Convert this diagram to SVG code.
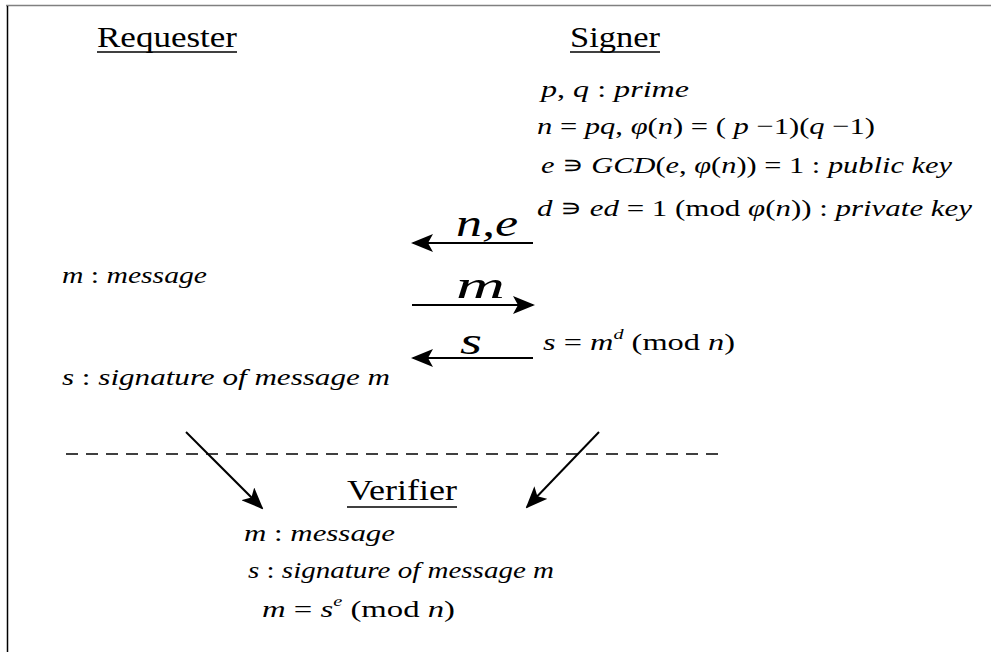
<svg xmlns="http://www.w3.org/2000/svg" width="991" height="652" viewBox="0 0 991 652" font-family="'Liberation Serif', 'Times New Roman', Times, 'DejaVu Serif', serif">
<defs>
<style>
.h{font-size:30px}
.t{font-size:24px}
.i{font-style:italic}
.big{font-size:38px;font-style:italic}
.sup{font-size:15px;font-style:italic}
.ln{stroke:#000;stroke-width:2;fill:none}
.ul{stroke:#000;stroke-width:1.5}
</style>
<marker id="ah2" markerWidth="22" markerHeight="18" refX="20" refY="9" orient="auto" markerUnits="userSpaceOnUse" viewBox="0 0 22 18">
<path d="M0,0 L22,9 L0,18 L5,9 Z" fill="#000"/>
</marker>
</defs>
<rect width="991" height="652" fill="#fff"/>
<line x1="6" y1="5.5" x2="991" y2="5.5" stroke="#808080" stroke-width="1.5"/>
<line x1="7.5" y1="6" x2="7.5" y2="652" stroke="#000" stroke-width="1.5"/>

<g id="requester">
<text class="h" x="97" y="47" textLength="140" lengthAdjust="spacingAndGlyphs">Requester</text>
<line class="ul" x1="97" y1="52" x2="237" y2="52"/>
<text class="t" x="62" y="283" textLength="145" lengthAdjust="spacingAndGlyphs"><tspan class="i">m</tspan> : <tspan class="i">message</tspan></text>
<text class="t" x="62" y="385" textLength="328" lengthAdjust="spacingAndGlyphs"><tspan class="i">s</tspan> : <tspan class="i">signature of  message m</tspan></text>
</g>

<g id="signer">
<text class="h" x="570" y="47" textLength="90" lengthAdjust="spacingAndGlyphs">Signer</text>
<line class="ul" x1="570" y1="52" x2="660" y2="52"/>
<text class="t" x="541" y="97" textLength="148" lengthAdjust="spacingAndGlyphs"><tspan class="i">p</tspan>, <tspan class="i">q</tspan> : <tspan class="i">prime</tspan></text>
<text class="t" x="537" y="134" textLength="338" lengthAdjust="spacingAndGlyphs"><tspan class="i">n</tspan> = <tspan class="i">pq</tspan>, <tspan class="i">φ</tspan>(<tspan class="i">n</tspan>) = ( <tspan class="i">p</tspan> −1)(<tspan class="i">q</tspan> −1)</text>
<text class="t" x="541" y="173" textLength="411" lengthAdjust="spacingAndGlyphs"><tspan class="i">e</tspan> ∍ <tspan class="i">GCD</tspan>(<tspan class="i">e</tspan>, <tspan class="i">φ</tspan>(<tspan class="i">n</tspan>)) = 1 : <tspan class="i">public key</tspan></text>
<text class="t" x="537" y="216" textLength="435" lengthAdjust="spacingAndGlyphs"><tspan class="i">d</tspan> ∍ <tspan class="i">ed</tspan> = 1 (mod <tspan class="i">φ</tspan>(<tspan class="i">n</tspan>)) : <tspan class="i">private key</tspan></text>
<text class="t" x="543" y="350" textLength="192" lengthAdjust="spacingAndGlyphs"><tspan class="i">s</tspan> = <tspan class="i">m</tspan><tspan class="sup" dy="-11">d</tspan><tspan dy="11">  (mod </tspan><tspan class="i">n</tspan>)</text>
</g>

<g id="verifier">
<text class="h" x="347" y="500" textLength="110" lengthAdjust="spacingAndGlyphs">Verifier</text>
<line class="ul" x1="347" y1="507" x2="457" y2="507"/>
<text class="t" x="244" y="541" textLength="151" lengthAdjust="spacingAndGlyphs"><tspan class="i">m</tspan> : <tspan class="i">message</tspan></text>
<text class="t" x="248" y="578" textLength="306" lengthAdjust="spacingAndGlyphs"><tspan class="i">s</tspan> : <tspan class="i">signature of  message m</tspan></text>
<text class="t" x="262" y="617" textLength="193" lengthAdjust="spacingAndGlyphs"><tspan class="i">m</tspan> = <tspan class="i">s</tspan><tspan class="sup" dy="-11">e</tspan><tspan dy="11">  (mod </tspan><tspan class="i">n</tspan>)</text>
</g>

<g id="connectors">
<line x1="66" y1="454" x2="720" y2="454" stroke="#000" stroke-width="1.5" stroke-dasharray="12,8"/>
<line class="ln" x1="533" y1="243" x2="413" y2="243" marker-end="url(#ah2)"/>
<line class="ln" x1="412" y1="305" x2="533" y2="305" marker-end="url(#ah2)"/>
<line class="ln" x1="533" y1="358" x2="413" y2="358" marker-end="url(#ah2)"/>
<line class="ln" x1="186" y1="432" x2="262" y2="508" marker-end="url(#ah2)"/>
<line class="ln" x1="599" y1="432" x2="527" y2="507" marker-end="url(#ah2)"/>
<text class="big" x="456" y="236" textLength="62" lengthAdjust="spacingAndGlyphs">n,e</text>
<text class="big" x="456" y="298" textLength="49" lengthAdjust="spacingAndGlyphs">m</text>
<text class="big" x="460" y="354" textLength="22" lengthAdjust="spacingAndGlyphs">s</text>
</g>
</svg>
